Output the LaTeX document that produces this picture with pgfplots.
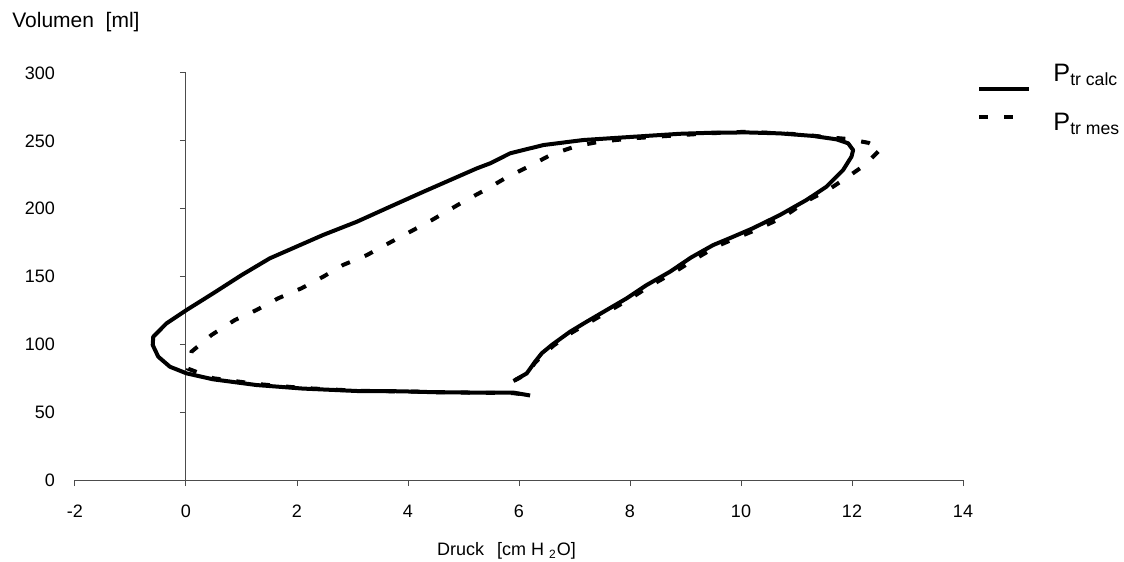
\documentclass[border=0pt]{standalone}
\usepackage{fontspec}
\setmainfont{Liberation Sans}
\usepackage{pgfplots}
\pgfplotsset{compat=1.18}
\begin{document}
\begin{tikzpicture}
\useasboundingbox (-37.5pt,-41pt) rectangle (524.5pt,240pt);
\begin{axis}[
  at={(0pt,0pt)}, anchor=south west,
  scale only axis, width=444pt, height=203.5pt,
  xmin=-2, xmax=14, ymin=0, ymax=300,
  axis x line*=bottom, axis y line*=middle,
  xtick={-2,0,...,14}, ytick={0,50,...,300},
  tick align=outside,
  major tick length=3pt,
  axis line style={draw=gray!60!black, line width=0.5pt},
  tick style={draw=gray!60!black, line width=0.5pt},
  ticklabel style={font=\fontsize{9}{10}\selectfont},
  /pgf/number format/assume math mode=true,
  yticklabel style={xshift=-59pt},
  xticklabel style={yshift=-6pt},
  hide obscured x ticks=false, hide obscured y ticks=false,
  xlabel={Druck\hspace{6.5pt}[cm H \textsubscript{2}O]},
  x label style={at={(axis description cs:0.486,-0.175)}, anchor=center, font=\fontsize{9}{10}\selectfont},
  clip=false,
  legend style={at={(axis description cs:1.0158,0.995)}, anchor=north west, draw=none, fill=none,
    inner sep=0pt, row sep=0pt, nodes={inner sep=0pt}},
  legend image code/.code={\path[draw=none,fill=none] (0pt,-7pt) rectangle (25pt,7pt); \draw[#1] (0pt,0pt) -- (25pt,0pt);},
]
\addplot[black, line width=2pt, line join=round] coordinates {
(5.93,73.7) (6.14,78.6) (6.29,87.2) (6.41,93.4) (6.59,99.5) (6.92,109.3)
(7.22,116.7) (7.58,125.3) (7.94,133.9) (8.30,143.7) (8.72,153.5) (9.10,164.0)
(9.50,173.2) (9.83,178.8) (10.20,185.3) (10.70,195.3) (11.18,206.4) (11.54,216.2)
(11.84,228.5) (11.99,238.3) (12.02,243.2) (11.93,248.2) (11.72,251.1) (11.30,253.6)
(10.70,255.5) (10.10,256.2) (9.50,256.0) (8.90,255.2) (8.06,253.0) (7.16,250.6)
(6.44,246.9) (5.84,240.8) (5.48,233.4) (5.24,229.7) (4.76,221.1) (4.28,212.5)
(3.68,201.5) (3.08,190.4) (2.47,180.6) (1.99,172.0) (1.51,163.4) (1.00,151.0)
(0.49,137.6) (0.01,125.3) (-0.35,115.5)
(-0.59,105.6) (-0.60,99.5) (-0.50,90.9) (-0.29,83.5) (0.01,78.6) (0.49,74.2)
(1.27,70.0) (2.10,67.4) (3.08,65.6) (3.86,65.4) (4.58,64.6) (5.30,64.4)
(5.90,64.4) (6.20,62.3)
};
\addlegendentry{}
\addplot[black, line width=2pt, dash pattern=on 4.5pt off 8pt] coordinates {
(5.90,73.0) (6.14,78.0) (6.29,86.5) (6.45,93.0) (6.62,99.0) (6.95,108.6)
(7.26,116.0) (7.62,124.5) (7.98,133.0) (8.35,142.8) (8.77,152.5) (9.16,162.5)
(9.55,172.0) (9.85,177.3) (10.25,184.0) (10.75,193.5) (11.20,206.0) (11.57,213.8)
(11.93,223.6) (12.23,232.2) (12.52,244.0) (12.30,248.5) (11.93,251.3) (11.48,253.0)
(11.06,254.8) (10.10,256.7) (9.40,255.5) (8.75,253.8) (8.06,251.9) (7.46,249.4)
(7.04,246.2) (6.59,240.0) (6.17,231.0) (5.75,222.4) (5.39,213.8) (5.00,205.2)
(4.43,191.6) (4.04,183.0) (3.65,174.5) (3.26,165.8) (2.83,158.5) (2.47,149.8)
(2.08,141.3) (1.66,133.9) (1.27,125.3) (0.88,117.9) (0.46,106.9) (0.10,94.6)
(0.04,82.0) (0.49,75.0) (1.27,70.8) (2.10,67.8) (3.08,65.8) (4.58,64.8)
(5.90,64.0) (6.20,62.5)
};
\addlegendentry{}
\node[anchor=base west, inner sep=0pt, font=\fontsize{12.6}{14}\selectfont] at (rel axis cs:1.1014,0.9803) {P\textsubscript{tr calc}};
\node[anchor=base west, inner sep=0pt, font=\fontsize{12.6}{14}\selectfont] at (rel axis cs:1.1014,0.8575) {P\textsubscript{tr mes}};
\node[anchor=west, inner sep=0pt, font=\fontsize{10.5}{12}\selectfont] at (rel axis cs:-0.071,1.125) {Volumen\ \ [ml]};
\end{axis}
\end{tikzpicture}
\end{document}
